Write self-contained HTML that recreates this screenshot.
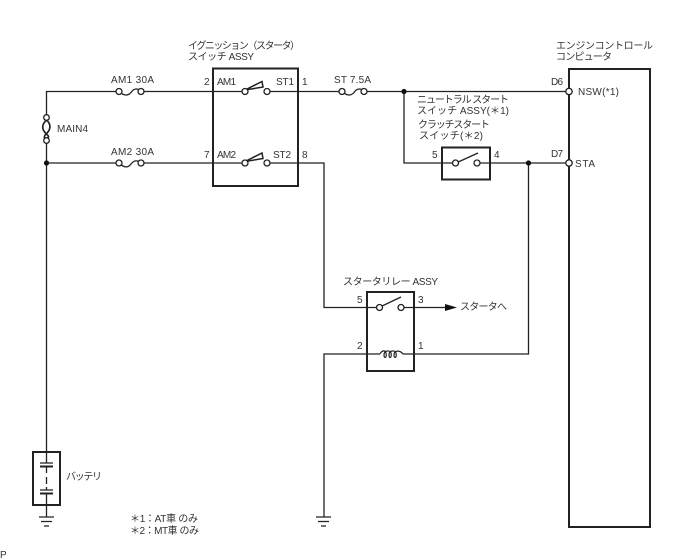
<!DOCTYPE html>
<html><head><meta charset="utf-8"><style>
html,body{margin:0;padding:0;background:#fff;width:688px;height:560px;overflow:hidden}
svg{display:block}
text{font-family:"Liberation Sans","Noto Sans CJK JP",sans-serif;font-size:10px;fill:#333}
.w{fill:none;stroke:#222;stroke-width:1.3}
.b{fill:none;stroke:#222;stroke-width:2}
.c{fill:#fff;stroke:#222;stroke-width:1.3}
.d{fill:#111}
</style></head><body>
<svg width="688" height="560" viewBox="0 0 688 560" xmlns="http://www.w3.org/2000/svg">
<!-- wires -->
<path class="w" d="M117 91.5H46.5V115M46.5 143V452M143 91.5H245M46.5 163H119M143 163H245M269 91.5H340M366 91.5H567M269 163H324V307.5H377M403 307.5H446M404 91.5V163H454M479 163H567M528.5 163V354H403M380 354H324V517M46.5 505V517"/>
<!-- boxes -->
<rect class="b" x="213" y="68.5" width="85" height="117.5"/>
<rect class="b" x="442" y="147.5" width="48" height="32"/>
<rect class="b" x="367" y="292" width="47" height="79"/>
<rect class="b" x="33" y="452" width="27" height="53"/>
<rect class="b" x="569" y="69" width="81" height="458"/>
<!-- fuses -->
<path class="w" stroke-width="1.5" d="M119 91.5C124 96 128 96 131 92.5C134 88 138 88 141 91.5"/>
<path class="w" stroke-width="1.5" d="M119 163C124 168 128 168 131 164C134 160 138 160 141 163"/>
<path class="w" stroke-width="1.5" d="M342 91.5C347 96 351 96 354 92.5C357 88 361 88 364 91.5"/>
<circle class="c" cx="119" cy="91.5" r="3"/><circle class="c" cx="141" cy="91.5" r="3"/>
<circle class="c" cx="119" cy="163" r="3"/><circle class="c" cx="141" cy="163" r="3"/>
<circle class="c" cx="342" cy="91.5" r="3"/><circle class="c" cx="364" cy="91.5" r="3"/>
<!-- MAIN4 -->
<path fill="none" stroke="#222" stroke-width="1.7" d="M46.5 120C41 125 42 130 46.5 134C50 137 48 139 46.5 138M46.5 120C51 124 51 129 47 133C43 137 44 139 46.5 138"/>
<circle class="c" cx="46.5" cy="117.5" r="2.8"/><circle class="c" cx="46.5" cy="140.5" r="2.8"/>
<!-- ignition switches -->
<path fill="#fff" stroke="#222" stroke-width="1.5" d="M245 90L262 81.5L263 87Z"/>
<path fill="#fff" stroke="#222" stroke-width="1.5" d="M245 161.5L262 153L263 158.5Z"/>
<circle class="c" cx="245" cy="91.5" r="3"/><circle class="c" cx="267" cy="91.5" r="3"/>
<circle class="c" cx="245" cy="163" r="3"/><circle class="c" cx="267" cy="163" r="3"/>
<!-- clutch switch -->
<path class="w" d="M456 163L478 153"/>
<circle class="c" cx="455.5" cy="163" r="3"/><circle class="c" cx="477" cy="163" r="3"/>
<!-- relay -->
<path class="w" d="M380 307L401 297"/>
<circle class="c" cx="379.5" cy="307.5" r="3"/><circle class="c" cx="401" cy="307.5" r="3"/>
<path d="M445 304L457 307.5L445 311Z" fill="#111"/>
<path fill="none" stroke="#222" stroke-width="1.2" d="M380 354C382 350 385 350 386 353C387 358 384 359 384 355C384 350 390 350 391 353C392 358 389 359 389 355C389 350 395 350 396 353C397 358 394 359 394 355C394 350 400 350 403 354"/>
<!-- ECU terminals -->
<circle class="c" cx="569" cy="91.5" r="3.2"/><circle class="c" cx="569" cy="163" r="3.2"/>
<!-- junctions -->
<circle class="d" cx="46.5" cy="163" r="2.6"/><circle class="d" cx="404" cy="91.5" r="2.6"/><circle class="d" cx="528.5" cy="163" r="2.6"/>
<!-- battery -->
<path class="w" d="M46.5 452V463M40 463H53"/>
<path class="b" d="M40 466.5H53"/>
<path class="w" d="M46.5 467V473M46.5 477V484M46.5 487V490M40 490H53"/>
<path class="b" d="M40 493.5H53"/>
<path class="w" d="M46.5 494V505"/>
<!-- grounds -->
<path class="w" d="M39 517H54M41 521.5H52M44 526H49"/>
<path class="w" d="M316 517H331M318 521.5H329M321 526H326"/>
<!-- labels -->
<text x="188" y="49" textLength="112">イグニッション（スタータ）</text>
<text x="188" y="60" textLength="66">スイッチ ASSY</text>
<text x="111" y="83" textLength="43">AM1 30A</text>
<text x="111" y="155" textLength="43">AM2 30A</text>
<text x="57" y="132" textLength="31">MAIN4</text>
<text x="204" y="85">2</text><text x="204" y="158">7</text>
<text x="217" y="85" textLength="19">AM1</text><text x="217" y="158" textLength="19">AM2</text>
<text x="276" y="85" textLength="18">ST1</text><text x="273" y="158" textLength="18">ST2</text>
<text x="302" y="85">1</text><text x="302" y="158">8</text>
<text x="334" y="83" textLength="37">ST 7.5A</text>
<text x="417" y="103" textLength="92">ニュートラル スタート</text>
<text x="417" y="114" textLength="92">スイッチ ASSY(＊1)</text>
<text x="418" y="128" textLength="72">クラッチスタート</text>
<text x="419" y="139" textLength="64">スイッチ(＊2)</text>
<text x="432" y="158">5</text><text x="494" y="158">4</text>
<text x="551" y="85" textLength="12">D6</text><text x="551" y="157" textLength="12">D7</text>
<text x="578" y="95" textLength="41">NSW(*1)</text>
<text x="575" y="167" textLength="20">STA</text>
<text x="556" y="49" textLength="97">エンジンコントロール</text>
<text x="556" y="60" textLength="56">コンピュータ</text>
<text x="343" y="285" textLength="95">スタータリレー ASSY</text>
<text x="357" y="303">5</text><text x="418" y="303">3</text>
<text x="357" y="349">2</text><text x="418" y="349">1</text>
<text x="460" y="310" textLength="47">スタータへ</text>
<text x="66" y="480" textLength="36">バッテリ</text>
<text x="130" y="522" textLength="68">＊1：AT車 のみ</text>
<text x="130" y="534" textLength="69">＊2：MT車 のみ</text>
<text x="0" y="558">P</text>
</svg>
</body></html>
